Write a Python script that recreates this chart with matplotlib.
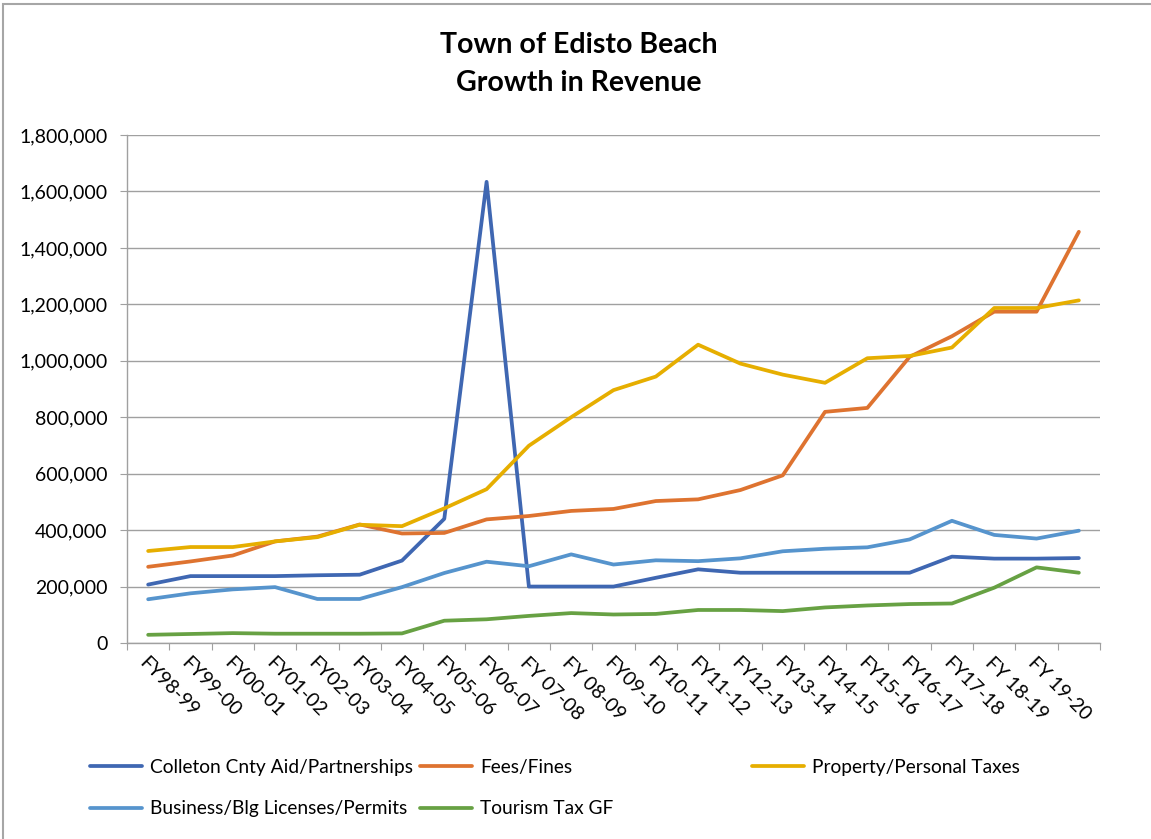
import matplotlib.pyplot as plt
import matplotlib.ticker as mticker
from matplotlib.patches import Rectangle
import numpy as np

plt.rcParams['font.family'] = ['Lato', 'DejaVu Sans']

# fiscal years on the x axis (last category has no label in the original)
years = ['FY98-99', 'FY99-00', 'FY00-01', 'FY01-02', 'FY02-03', 'FY03-04',
         'FY04-05', 'FY05-06', 'FY06-07', 'FY 07-08', 'FY 08-09', 'FY09-10',
         'FY10-11', 'FY11-12', 'FY12-13', 'FY13-14', 'FY14-15', 'FY15-16',
         'FY16-17', 'FY17-18', 'FY 18-19', 'FY 19-20', '']

colleton = [207000, 237000, 237000, 237000, 240000, 242000, 292000, 440000,
            1634000, 200000, 200000, 200000, 231000, 261000, 249000, 249000,
            249000, 249000, 249000, 306000, 299000, 299000, 301000]
fees = [270000, 289000, 310000, 360000, 377000, 420000, 388000, 390000,
        438000, 450000, 468000, 475000, 503000, 509000, 542000, 594000,
        819000, 833000, 1014000, 1087000, 1174000, 1174000, 1457000]
property_tax = [326000, 340000, 340000, 360000, 375000, 419000, 414000, 477000,
                545000, 699000, 800000, 896000, 944000, 1057000, 990000, 951000,
                922000, 1009000, 1017000, 1047000, 1187000, 1187000, 1214000]
business = [155000, 176000, 190000, 198000, 156000, 156000, 198000, 248000,
            288000, 272000, 314000, 278000, 293000, 290000, 300000, 325000,
            334000, 339000, 367000, 433000, 383000, 370000, 398000]
tourism = [29000, 32000, 35000, 33000, 33000, 33000, 34000, 79000,
           84000, 96000, 106000, 101000, 103000, 117000, 117000, 113000,
           126000, 133000, 138000, 140000, 196000, 268000, 249000]

series_names = ['Colleton Cnty Aid/Partnerships', 'Fees/Fines',
                'Property/Personal Taxes', 'Business/Blg Licenses/Permits',
                'Tourism Tax GF']
colors = ['#3F67B2', '#DE7330', '#E6AE00', '#5694CD', '#67A143']

W, H = 1151, 839
fig = plt.figure(figsize=(W / 100, H / 100), dpi=100)
ax = fig.add_axes([127 / W, 1 - 643 / H, (1100 - 127) / W, (643 - 135) / H])

x = np.arange(len(years))
lines = []
for vals, name, c in zip([colleton, fees, property_tax, business, tourism],
                         series_names, colors):
    ln, = ax.plot(x, vals, color=c, lw=2.7, label=name, solid_capstyle='round')
    lines.append(ln)

grid_c = '#A0A0A0'
ax.set_xlim(-0.5, len(years) - 0.5)
ax.set_ylim(0, 1800000)
ax.yaxis.set_major_locator(mticker.MultipleLocator(200000))
ax.yaxis.set_major_formatter(mticker.FuncFormatter(lambda v, p: f'{v:,.0f}'))
ax.grid(axis='y', color=grid_c, lw=1)
ax.set_axisbelow(True)

for s in ['top', 'right']:
    ax.spines[s].set_visible(False)
for s in ['left', 'bottom']:
    ax.spines[s].set_color(grid_c)
    ax.spines[s].set_linewidth(1)

# tick marks between categories, labels at the centres
ax.set_xticks(np.arange(-0.5, len(years)))
ax.set_xticklabels([])
ax.set_xticks(x[:-1], minor=True)
ax.set_xticklabels(years[:-1], minor=True, rotation=-45, ha='left', va='top',
                   rotation_mode='anchor', fontsize=14)
ax.tick_params(axis='x', which='major', length=5, color=grid_c)
ax.tick_params(axis='x', which='minor', length=0, pad=8)
ax.tick_params(axis='y', length=5, color=grid_c, pad=9, labelsize=14)

# title
fig.text(0.503, 1 - 45 / H, 'Town of Edisto Beach', ha='center', va='center',
         fontsize=20.5, fontweight='bold')
fig.text(0.503, 1 - 83 / H, 'Growth in Revenue', ha='center', va='center',
         fontsize=20.5, fontweight='bold')

# legend in three columns like excel
leg_kw = dict(frameon=False, loc='upper left', borderaxespad=0, borderpad=0,
              handlelength=2.7, handletextpad=0.45, labelspacing=1.27,
              fontsize=13.8)
fig.legend([lines[0], lines[3]], [series_names[0], series_names[3]],
           bbox_to_anchor=(90 / W, 1 - 759 / H), **leg_kw)
fig.legend([lines[1], lines[4]], [series_names[1], series_names[4]],
           bbox_to_anchor=(420 / W, 1 - 759 / H), **leg_kw)
fig.legend([lines[2]], [series_names[2]],
           bbox_to_anchor=(752 / W, 1 - 759 / H), **leg_kw)

# chart border (only top and left are visible in the crop)
fig.patches.append(Rectangle((3 / W, -0.1), 1.2, 1.1 - 4 / H, fill=False,
                             edgecolor='#A6A6A6', lw=1.5,
                             transform=fig.transFigure, figure=fig))

plt.savefig('out.png', dpi=100)
